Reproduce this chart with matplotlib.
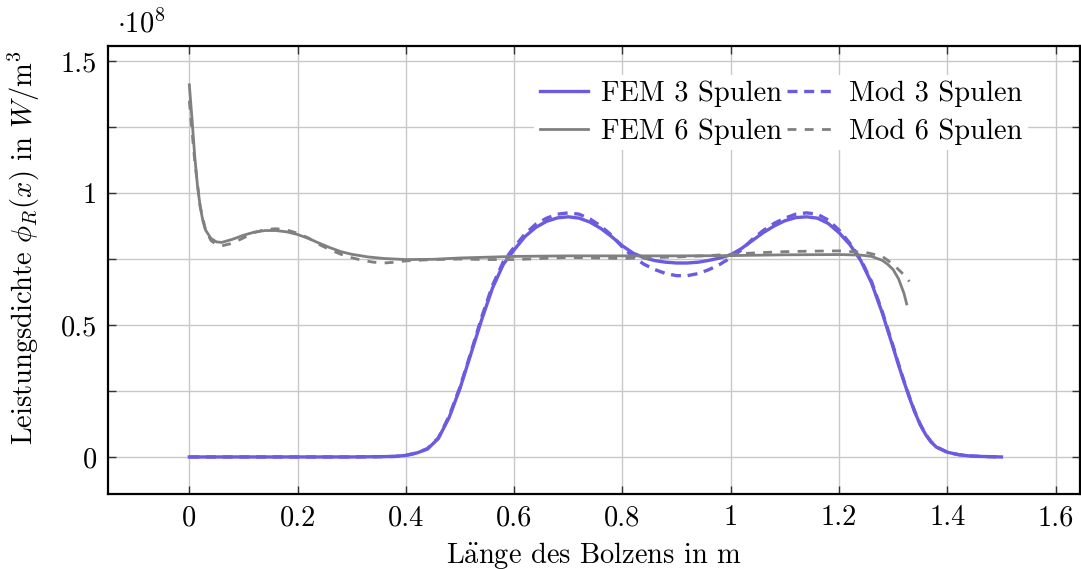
import numpy as np
import matplotlib
matplotlib.use('Agg')
import matplotlib.pyplot as plt
from matplotlib.ticker import MultipleLocator

plt.rcParams['font.family'] = ['cmr10', 'DejaVu Serif']
plt.rcParams['mathtext.fontset'] = 'cm'
plt.rcParams['axes.formatter.use_mathtext'] = True

# FEM 3 Spulen (y in 1e8 W/m^3)
x_fem3 = [0, 0.1, 0.2, 0.3, 0.35, 0.38, 0.40, 0.42, 0.44, 0.46, 0.48, 0.50, 0.52, 0.54, 0.56, 0.58,
          0.60, 0.62, 0.64, 0.66, 0.68, 0.70, 0.72, 0.74, 0.76, 0.78, 0.80, 0.82, 0.84, 0.86, 0.88,
          0.90, 0.92, 0.94, 0.96, 0.98, 1.00, 1.02, 1.04, 1.06, 1.08, 1.10, 1.12, 1.14, 1.16, 1.18,
          1.20, 1.22, 1.24, 1.26, 1.28, 1.30, 1.31, 1.32, 1.33, 1.34, 1.35, 1.36, 1.37, 1.38, 1.40,
          1.42, 1.44, 1.46, 1.50]
y_fem3 = [0, 0, 0, 0, 0.001, 0.002, 0.006, 0.015, 0.03, 0.07, 0.15, 0.26, 0.39, 0.52, 0.64, 0.73,
          0.785, 0.835, 0.87, 0.893, 0.906, 0.91, 0.905, 0.89, 0.866, 0.835, 0.80, 0.772, 0.755, 0.744, 0.738,
          0.735, 0.735, 0.738, 0.745, 0.754, 0.766, 0.79, 0.82, 0.85, 0.875, 0.895, 0.907, 0.91, 0.905, 0.885,
          0.85, 0.805, 0.745, 0.66, 0.545, 0.415, 0.348, 0.285, 0.225, 0.17, 0.122, 0.085, 0.057, 0.037, 0.018,
          0.009, 0.004, 0.002, 0]

# Mod 3 Spulen
x_mod3 = x_fem3
y_mod3 = [0, 0, 0, 0, 0.001, 0.002, 0.006, 0.015, 0.032, 0.072, 0.155, 0.265, 0.395, 0.53, 0.65, 0.74,
          0.795, 0.845, 0.882, 0.905, 0.92, 0.925, 0.92, 0.902, 0.875, 0.84, 0.795, 0.758, 0.73, 0.71, 0.695,
          0.687, 0.687, 0.695, 0.71, 0.73, 0.755, 0.785, 0.825, 0.858, 0.885, 0.905, 0.92, 0.925, 0.92, 0.898,
          0.86, 0.81, 0.75, 0.665, 0.55, 0.42, 0.352, 0.288, 0.228, 0.172, 0.124, 0.086, 0.058, 0.038, 0.018,
          0.009, 0.004, 0.002, 0]

# FEM 6 Spulen
x_fem6 = [0, 0.005, 0.01, 0.015, 0.02, 0.025, 0.03, 0.04, 0.05, 0.06, 0.08, 0.10, 0.12, 0.14, 0.16,
          0.18, 0.20, 0.22, 0.24, 0.26, 0.28, 0.30, 0.33, 0.36, 0.40, 0.45, 0.50, 0.60, 0.70, 0.80,
          0.90, 1.00, 1.10, 1.20, 1.24, 1.26, 1.28, 1.29, 1.30, 1.31, 1.32, 1.325]
y_fem6 = [1.41, 1.28, 1.14, 1.03, 0.95, 0.895, 0.86, 0.828, 0.815, 0.813, 0.825, 0.84, 0.852, 0.858, 0.858,
          0.853, 0.843, 0.828, 0.81, 0.793, 0.778, 0.768, 0.758, 0.752, 0.748, 0.749, 0.754, 0.76, 0.762, 0.762,
          0.762, 0.763, 0.766, 0.767, 0.765, 0.76, 0.745, 0.73, 0.71, 0.675, 0.62, 0.58]

# Mod 6 Spulen
x_mod6 = [0, 0.01, 0.02, 0.03, 0.04, 0.05, 0.06, 0.08, 0.10, 0.12, 0.14, 0.16, 0.18, 0.20, 0.22,
          0.24, 0.26, 0.28, 0.30, 0.32, 0.34, 0.36, 0.38, 0.40, 0.45, 0.50, 0.55, 0.60, 0.65, 0.70,
          0.75, 0.80, 0.85, 0.90, 0.95, 1.00, 1.05, 1.10, 1.15, 1.20, 1.25, 1.28, 1.30, 1.32, 1.33]
y_mod6 = [1.35, 1.12, 0.95, 0.86, 0.82, 0.805, 0.80, 0.81, 0.83, 0.85, 0.862, 0.865, 0.86, 0.848, 0.83,
          0.805, 0.785, 0.768, 0.755, 0.745, 0.738, 0.735, 0.738, 0.743, 0.748, 0.750, 0.748, 0.748, 0.752, 0.756,
          0.754, 0.752, 0.755, 0.758, 0.762, 0.768, 0.774, 0.778, 0.78, 0.781, 0.775, 0.76, 0.73, 0.69, 0.665]

x_ticks = [0, 0.2, 0.4, 0.6, 0.8, 1.0, 1.2, 1.4, 1.6]
x_ticklabels = ['0', '0.2', '0.4', '0.6', '0.8', '1', '1.2', '1.4', '1.6']
y_ticks = [0, 0.5e8, 1.0e8, 1.5e8]
y_ticklabels = ['0', '0.5', '1', '1.5']

blue = '#6a5be0'
gray = '#808080'
scale = 1e8
fs = 20.5

fig = plt.figure(figsize=(10.81, 5.69), dpi=100)
ax = fig.add_axes([0.1, 0.132, 0.899, 0.787])

ax.plot(x_fem3, np.array(y_fem3) * scale, color=blue, lw=2.4, label='FEM 3 Spulen', zorder=3)
ax.plot(x_mod3, np.array(y_mod3) * scale, color=blue, lw=2.4, dashes=(3.0, 2.0), label='Mod 3 Spulen', zorder=3)
ax.plot(x_fem6, np.array(y_fem6) * scale, color=gray, lw=2.0, label='FEM 6 Spulen', zorder=3)
ax.plot(x_mod6, np.array(y_mod6) * scale, color=gray, lw=2.0, dashes=(3.2, 3.0), label='Mod 6 Spulen', zorder=3)

ax.set_xlim(-0.15, 1.645)
ax.set_ylim(-0.14e8, 1.557e8)
ax.set_xticks(x_ticks)
ax.set_xticklabels(x_ticklabels)
ax.set_yticks(y_ticks)
ax.set_yticklabels(y_ticklabels)
ax.yaxis.set_minor_locator(MultipleLocator(0.25e8))

ax.grid(True, which='both', color='#c8c8c8', lw=1.0, zorder=0)
ax.set_axisbelow(True)
ax.tick_params(which='both', direction='in', top=True, right=True, length=6, width=1.0,
               labelsize=fs, pad=8, color='#333333')
for s in ax.spines.values():
    s.set_linewidth(1.6)

ax.set_xlabel(r'L$\ddot{\mathrm{a}}$nge des Bolzens in m', fontsize=fs, labelpad=6)
ax.set_ylabel(r'Leistungsdichte $\phi_R(x)$ in $W/\mathrm{m}^3$', fontsize=fs)
ax.yaxis.set_label_coords(-0.068, 0.55)
fig.text(0.108, 0.958, r'$\cdot 10^8$', fontsize=fs, ha='left', va='center')

h, l = ax.get_legend_handles_labels()
order = [0, 2, 1, 3]
leg = ax.legend([h[i] for i in order], [l[i] for i in order], ncol=2, loc='upper right',
                bbox_to_anchor=(0.961, 0.968), fontsize=fs, frameon=True, fancybox=False,
                edgecolor='none', facecolor='white', framealpha=1.0,
                handlelength=1.7, handletextpad=0.45, columnspacing=0.2, labelspacing=0.4,
                borderpad=0.2)

fig.savefig('out.png', dpi=100)
